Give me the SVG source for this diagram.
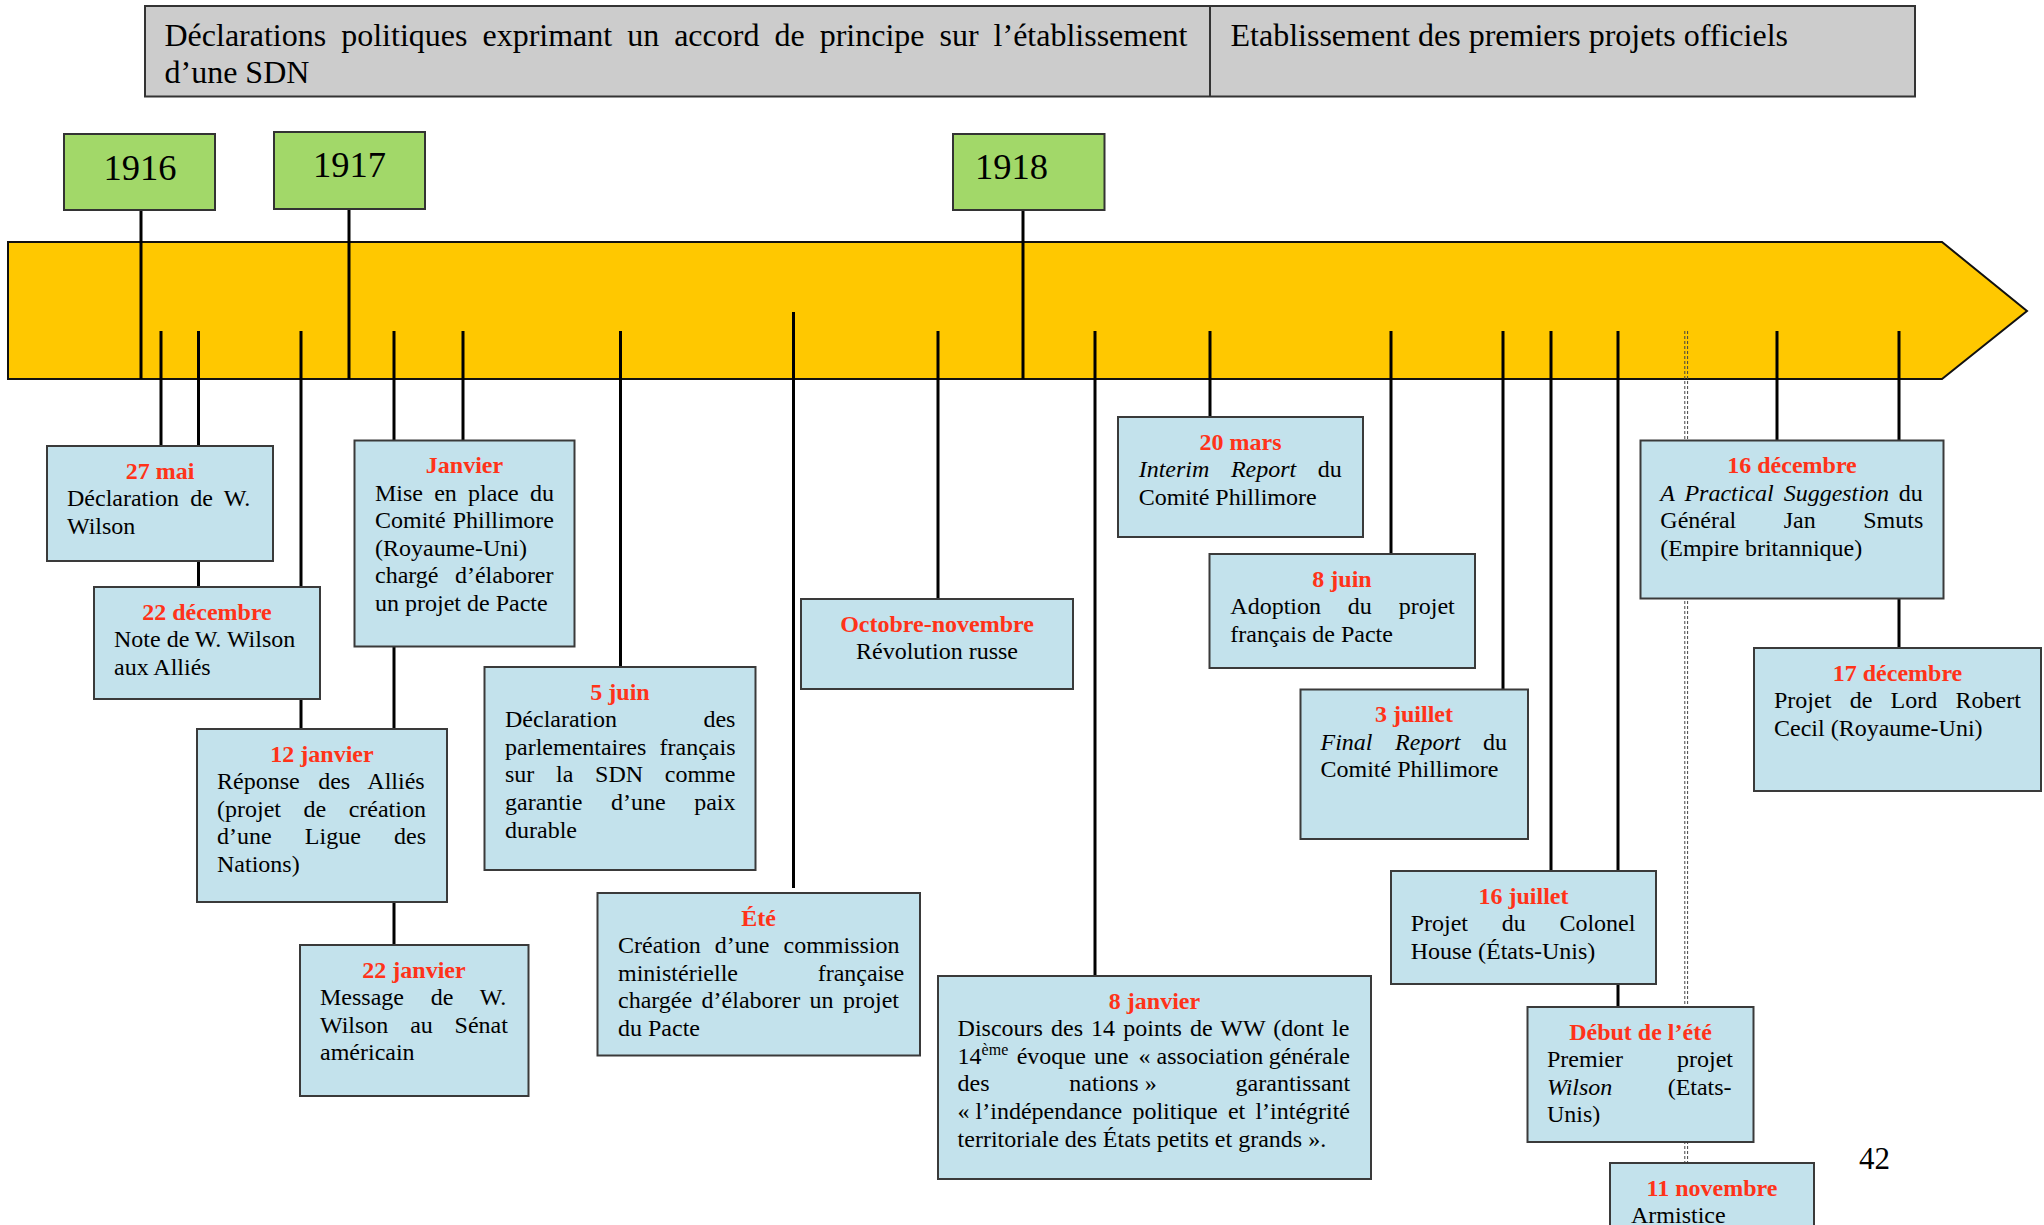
<svg xmlns="http://www.w3.org/2000/svg" width="2044" height="1225" viewBox="0 0 2044 1225">
<style>
text{font-family:"Liberation Serif","Times New Roman",serif;font-size:24px;fill:#000}
.box{fill:#C3E2EC;stroke:#3a3a3a;stroke-width:2}
.yr{fill:#A2D869;stroke:#333;stroke-width:2}
.yt{font-size:36.5px;text-anchor:middle}
.h{font-weight:bold;fill:#FF3319;text-anchor:middle}
.i{font-style:italic}
.c line{stroke:#000;stroke-width:3}
.d line{stroke:#444;stroke-width:1;stroke-dasharray:3 2}
</style>
<g id="header">
<rect x="145" y="6" width="1770" height="90.5" fill="#CCCCCC" stroke="#333" stroke-width="2"/>
<line x1="1210" y1="6" x2="1210" y2="96.5" stroke="#333" stroke-width="2"/>
<text x="164.5" y="46" style="font-size:32px" word-spacing="7">Déclarations politiques exprimant un accord de principe sur l’établissement</text>
<text x="164.5" y="82.5" style="font-size:32px">d’une SDN</text>
<text x="1230.5" y="46" style="font-size:32px">Etablissement des premiers projets officiels</text>
</g>
<g id="timeline">
<polygon points="8,242 1942,242 2027,311 1942,379 8,379" fill="#FFC800" stroke="#111" stroke-width="2"/>
</g>
<g id="connectors" class="c">
<line x1="141" y1="210" x2="141" y2="379"/>
<line x1="349" y1="208.5" x2="349" y2="379"/>
<line x1="1023" y1="210" x2="1023" y2="379"/>
<line x1="161" y1="331" x2="161" y2="446"/>
<line x1="198.5" y1="331" x2="198.5" y2="587"/>
<line x1="301" y1="331" x2="301" y2="729"/>
<line x1="394" y1="331" x2="394" y2="945"/>
<line x1="463" y1="331" x2="463" y2="440.5"/>
<line x1="620.5" y1="331" x2="620.5" y2="667"/>
<line x1="793.5" y1="312" x2="793.5" y2="888"/>
<line x1="938" y1="331" x2="938" y2="599"/>
<line x1="1095" y1="331" x2="1095" y2="976"/>
<line x1="1210" y1="331" x2="1210" y2="420"/>
<line x1="1391" y1="331" x2="1391" y2="554"/>
<line x1="1503" y1="331" x2="1503" y2="689.5"/>
<line x1="1551" y1="331" x2="1551" y2="871"/>
<line x1="1618" y1="331" x2="1618" y2="1007"/>
<line x1="1777" y1="331" x2="1777" y2="440.5"/>
<line x1="1899" y1="331" x2="1899" y2="648"/>
<g class="d">
<line x1="1684.8" y1="331" x2="1684.8" y2="1163"/>
<line x1="1687.6" y1="331" x2="1687.6" y2="1163"/>
</g>
</g>
<g id="y1916"><rect class="yr" x="64" y="134" width="151" height="76"/><text class="yt" x="140" y="179.5">1916</text></g>
<g id="y1917"><rect class="yr" x="274" y="132" width="151" height="77"/><text class="yt" x="349.5" y="177">1917</text></g>
<g id="y1918"><rect class="yr" x="953" y="134" width="151.5" height="76"/><text class="yt" x="975" y="178.5" style="text-anchor:start">1918</text></g>

<g id="e27mai"><rect class="box" x="47" y="446" width="226" height="115"/>
<text class="h" x="160" y="478.5">27 mai</text>
<text x="67" y="506" word-spacing="5.35">Déclaration de W.</text>
<text x="67" y="533.7">Wilson</text></g>

<g id="e22dec"><rect class="box" x="94" y="587" width="226" height="112"/>
<text class="h" x="207" y="619.5">22 décembre</text>
<text x="114" y="647">Note de W. Wilson</text>
<text x="114" y="674.7">aux Alliés</text></g>

<g id="ejanvier"><rect class="box" x="354.5" y="440.5" width="220" height="206"/>
<text class="h" x="464.5" y="473">Janvier</text>
<text x="375" y="500.6" word-spacing="5.2">Mise en place du</text>
<text x="375" y="528.2" word-spacing="1">Comité Phillimore</text>
<text x="375" y="555.8">(Royaume-Uni)</text>
<text x="375" y="583.4" word-spacing="10.4">chargé d’élaborer</text>
<text x="375" y="611">un projet de Pacte</text></g>

<g id="e12janvier"><rect class="box" x="197" y="729" width="250" height="173"/>
<text class="h" x="322" y="761.5">12 janvier</text>
<text x="217" y="789" word-spacing="12.5">Réponse des Alliés</text>
<text x="217" y="816.7" word-spacing="16.5">(projet de création</text>
<text x="217" y="844.3" word-spacing="27.2">d’une Ligue des</text>
<text x="217" y="871.9">Nations)</text></g>

<g id="e22janvier"><rect class="box" x="300" y="945" width="228.5" height="151"/>
<text class="h" x="414" y="977.5">22 janvier</text>
<text x="320" y="1005" word-spacing="20.8">Message de W.</text>
<text x="320" y="1032.7" word-spacing="15.8">Wilson au Sénat</text>
<text x="320" y="1060.3">américain</text></g>

<g id="e5juin"><rect class="box" x="484.5" y="667" width="271" height="203"/>
<text class="h" x="620" y="699.5">5 juin</text>
<text x="505" y="727" word-spacing="80.5">Déclaration des</text>
<text x="505" y="754.7" word-spacing="7.3">parlementaires français</text>
<text x="505" y="782.3" word-spacing="15.7">sur la SDN comme</text>
<text x="505" y="809.9" word-spacing="22.6">garantie d’une paix</text>
<text x="505" y="837.5">durable</text></g>

<g id="eete"><rect class="box" x="597.5" y="893" width="322.5" height="162.5"/>
<text class="h" x="758.5" y="925.5">Été</text>
<text x="618" y="953" word-spacing="8.1">Création d’une commission</text>
<text x="618" y="980.7" word-spacing="73.7">ministérielle française</text>
<text x="618" y="1008.3" word-spacing="3.4">chargée d’élaborer un projet</text>
<text x="618" y="1035.9">du Pacte</text></g>

<g id="eoctnov"><rect class="box" x="801" y="599" width="272" height="90"/>
<text class="h" x="937" y="631.5">Octobre-novembre</text>
<text x="937" y="659" text-anchor="middle">Révolution russe</text></g>

<g id="e8janvier"><rect class="box" x="938" y="976" width="433" height="203"/>
<text class="h" x="1154.5" y="1008.5">8 janvier</text>
<text x="957.6" y="1036" word-spacing="2.1">Discours des 14 points de WW (dont le</text>
<text y="1063.7"><tspan x="957.6">14</tspan><tspan style="font-size:16px" dy="-9">ème</tspan><tspan x="1016.7" dy="9">évoque</tspan><tspan x="1094">une</tspan><tspan x="1138.6">«&#160;association</tspan><tspan x="1268.7">générale</tspan></text>
<text y="1091.3"><tspan x="957.6">des</tspan><tspan x="1069.3">nations&#160;»</tspan><tspan x="1235.6">garantissant</tspan></text>
<text y="1118.9"><tspan x="957.6">«&#160;l’indépendance</tspan><tspan x="1132.4">politique</tspan><tspan x="1227.9">et</tspan><tspan x="1255.4">l’intégrité</tspan></text>
<text x="957.6" y="1146.5">territoriale des États petits et grands&#160;».</text></g>

<g id="e20mars"><rect class="box" x="1118" y="417" width="245" height="120"/>
<text class="h" x="1240.5" y="449.5">20 mars</text>
<text x="1138.7" y="477" word-spacing="15.6"><tspan class="i">Interim Report</tspan> du</text>
<text x="1138.7" y="504.7">Comité Phillimore</text></g>

<g id="e8juin"><rect class="box" x="1209.5" y="554" width="265.5" height="114"/>
<text class="h" x="1342" y="586.5">8 juin</text>
<text x="1230.3" y="614" word-spacing="20.9">Adoption du projet</text>
<text x="1230.3" y="641.7">français de Pacte</text></g>

<g id="e3juillet"><rect class="box" x="1300.5" y="689.5" width="227.5" height="149.5"/>
<text class="h" x="1414" y="722">3 juillet</text>
<text x="1320.5" y="749.5" word-spacing="16.6"><tspan class="i">Final Report</tspan> du</text>
<text x="1320.5" y="777.2">Comité Phillimore</text></g>

<g id="e16juillet"><rect class="box" x="1391" y="871" width="265" height="113"/>
<text class="h" x="1523.5" y="903.5">16 juillet</text>
<text x="1410.7" y="931" word-spacing="27.7">Projet du Colonel</text>
<text x="1410.7" y="958.7">House (États-Unis)</text></g>

<g id="edebutete"><rect class="box" x="1527.5" y="1007" width="226" height="135"/>
<text class="h" x="1640.5" y="1039.5">Début de l’été</text>
<text x="1547" y="1067" word-spacing="48">Premier projet</text>
<text x="1547" y="1094.7" word-spacing="49.3"><tspan class="i">Wilson</tspan> (Etats-</text>
<text x="1547" y="1122.3">Unis)</text></g>

<g id="e11nov"><rect class="box" x="1610" y="1163" width="204" height="80"/>
<text class="h" x="1712" y="1195.5">11 novembre</text>
<text x="1631" y="1223">Armistice</text></g>

<g id="e16dec"><rect class="box" x="1640.5" y="440.5" width="303" height="158"/>
<text class="h" x="1792" y="473">16 décembre</text>
<text x="1660.3" y="500.6" word-spacing="3.9"><tspan class="i">A Practical Suggestion</tspan> du</text>
<text x="1660.3" y="528.2" word-spacing="41.5">Général Jan Smuts</text>
<text x="1660.3" y="555.8">(Empire britannique)</text></g>

<g id="e17dec"><rect class="box" x="1754" y="648" width="287" height="143"/>
<text class="h" x="1897.5" y="680.5">17 décembre</text>
<text x="1774" y="708" word-spacing="12.3">Projet de Lord Robert</text>
<text x="1774" y="735.7">Cecil (Royaume-Uni)</text></g>

<text x="1859" y="1169" style="font-size:31px">42</text>
</svg>
